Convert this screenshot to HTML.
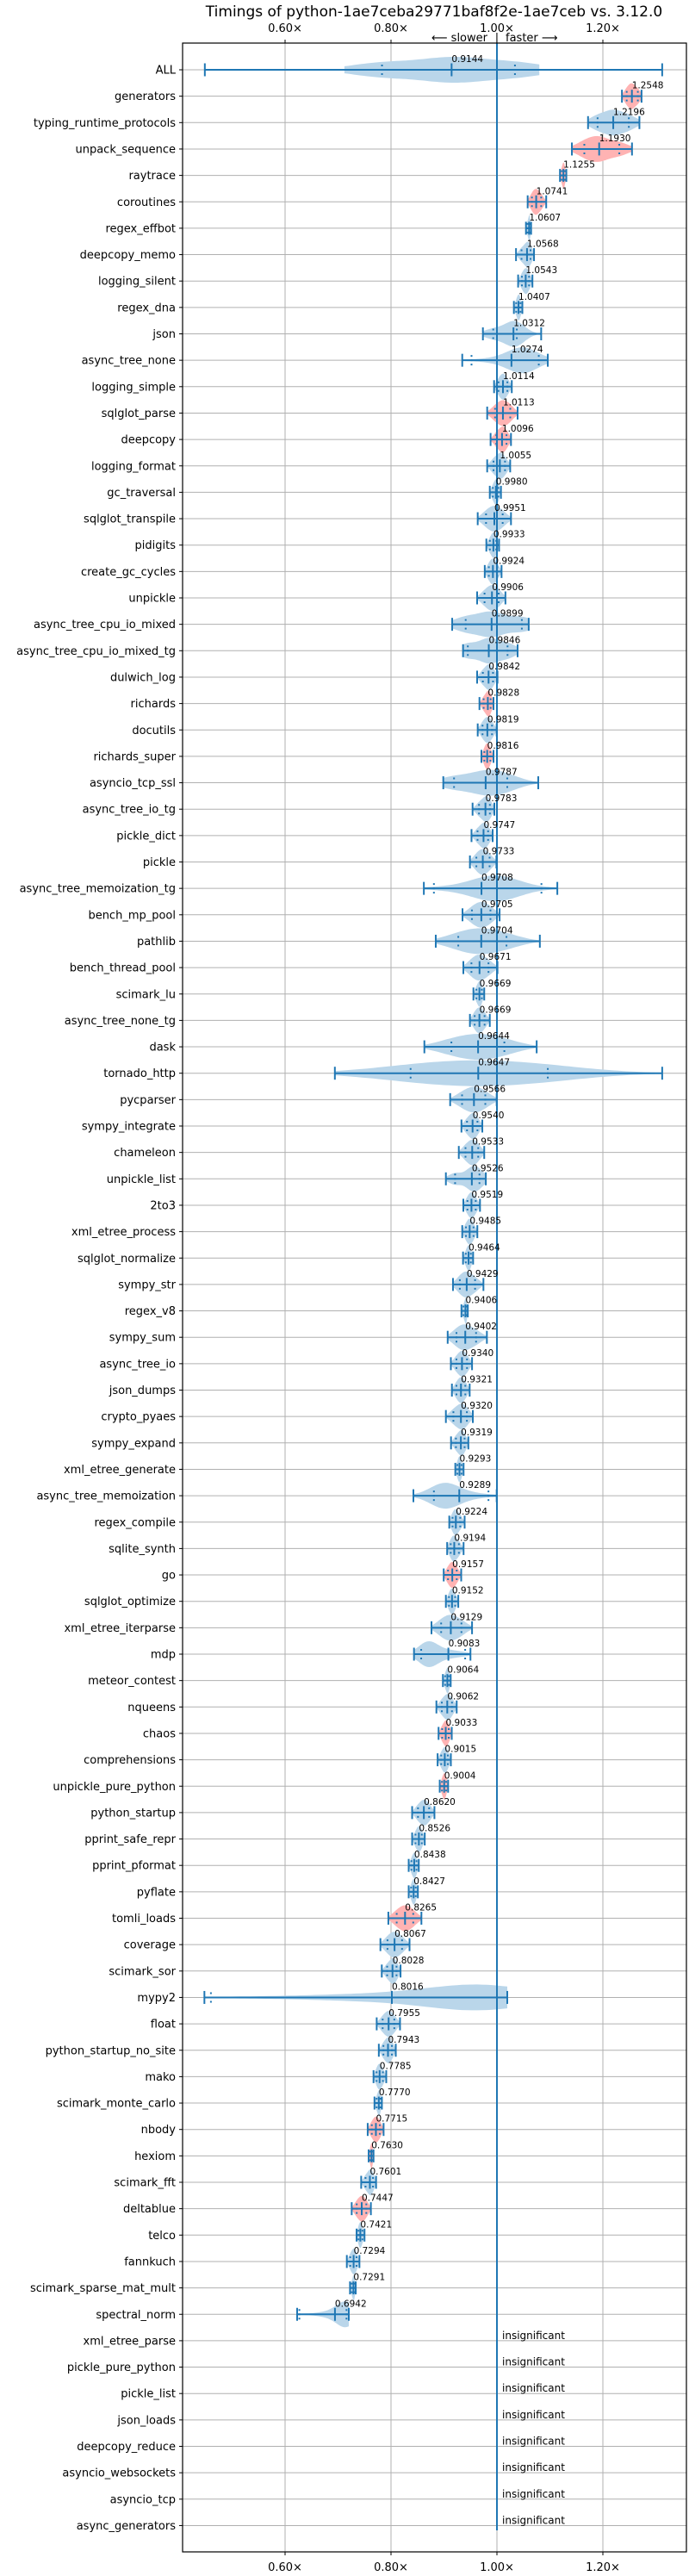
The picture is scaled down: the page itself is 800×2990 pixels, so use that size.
<!DOCTYPE html>
<html><head><meta charset="utf-8">
<style>
html,body{margin:0;padding:0;background:#fff;}
svg{display:block;font-family:"DejaVu Sans","Liberation Sans",sans-serif;}
</style></head>
<body>
<svg id="chart" width="800" height="2990" viewBox="0 0 800 2990" xmlns="http://www.w3.org/2000/svg">
<text x="504" y="19" font-size="17" text-anchor="middle" fill="#000">Timings of python-1ae7ceba29771baf8f2e-1ae7ceb vs. 3.12.0</text>
<text x="566" y="48" font-size="13" text-anchor="end" fill="#000">⟵ slower</text>
<text x="577" y="48" font-size="13" text-anchor="middle" fill="#000">|</text>
<text x="587" y="48" font-size="13" text-anchor="start" fill="#000">faster ⟶</text>
<g id="grid"></g><g id="marks"></g><g id="labels"></g>
</svg>
<script>
const benchNames = ["ALL","generators","typing_runtime_protocols","unpack_sequence","raytrace","coroutines","regex_effbot","deepcopy_memo","logging_silent","regex_dna","json","async_tree_none","logging_simple","sqlglot_parse","deepcopy","logging_format","gc_traversal","sqlglot_transpile","pidigits","create_gc_cycles","unpickle","async_tree_cpu_io_mixed","async_tree_cpu_io_mixed_tg","dulwich_log","richards","docutils","richards_super","asyncio_tcp_ssl","async_tree_io_tg","pickle_dict","pickle","async_tree_memoization_tg","bench_mp_pool","pathlib","bench_thread_pool","scimark_lu","async_tree_none_tg","dask","tornado_http","pycparser","sympy_integrate","chameleon","unpickle_list","2to3","xml_etree_process","sqlglot_normalize","sympy_str","regex_v8","sympy_sum","async_tree_io","json_dumps","crypto_pyaes","sympy_expand","xml_etree_generate","async_tree_memoization","regex_compile","sqlite_synth","go","sqlglot_optimize","xml_etree_iterparse","mdp","meteor_contest","nqueens","chaos","comprehensions","unpickle_pure_python","python_startup","pprint_safe_repr","pprint_pformat","pyflate","tomli_loads","coverage","scimark_sor","mypy2","float","python_startup_no_site","mako","scimark_monte_carlo","nbody","hexiom","scimark_fft","deltablue","telco","fannkuch","scimark_sparse_mat_mult","spectral_norm"];
const insignificantNames = ["xml_etree_parse","pickle_pure_python","pickle_list","json_loads","deepcopy_reduce","asyncio_websockets","asyncio_tcp","async_generators"];
const medians = [0.9144,1.2548,1.2196,1.1930,1.1255,1.0741,1.0607,1.0568,1.0543,1.0407,1.0312,1.0274,1.0114,1.0113,1.0096,1.0055,0.9980,0.9951,0.9933,0.9924,0.9906,0.9899,0.9846,0.9842,0.9828,0.9819,0.9816,0.9787,0.9783,0.9747,0.9733,0.9708,0.9705,0.9704,0.9671,0.9669,0.9669,0.9644,0.9647,0.9566,0.9540,0.9533,0.9526,0.9519,0.9485,0.9464,0.9429,0.9406,0.9402,0.9340,0.9321,0.9320,0.9319,0.9293,0.9289,0.9224,0.9194,0.9157,0.9152,0.9129,0.9083,0.9064,0.9062,0.9033,0.9015,0.9004,0.8620,0.8526,0.8438,0.8427,0.8265,0.8067,0.8028,0.8016,0.7955,0.7943,0.7785,0.7770,0.7715,0.7630,0.7601,0.7447,0.7421,0.7294,0.7291,0.6942];
const mins = [0.4485,1.236,1.172,1.1415,1.119,1.058,1.0548,1.036,1.040,1.032,0.9735,0.9345,0.9946,0.9816,0.988,0.9816,0.9865,0.9637,0.980,0.977,0.9626,0.9155,0.936,0.9626,0.967,0.9637,0.9707,0.8987,0.954,0.952,0.949,0.862,0.935,0.8845,0.9366,0.9556,0.949,0.863,0.694,0.9117,0.933,0.928,0.9036,0.9366,0.9345,0.936,0.917,0.933,0.907,0.913,0.915,0.9036,0.9133,0.9214,0.8423,0.910,0.906,0.8995,0.9036,0.8764,0.8434,0.898,0.8857,0.8898,0.888,0.892,0.8399,0.8399,0.8334,0.8334,0.795,0.780,0.7826,0.4477,0.773,0.777,0.767,0.7688,0.756,0.7578,0.7437,0.7258,0.735,0.7166,0.7226,0.6228];
const maxs = [1.312,1.273,1.269,1.255,1.131,1.093,1.0645,1.070,1.067,1.048,1.0835,1.096,1.028,1.039,1.0265,1.025,1.0076,1.0265,1.004,1.0087,1.016,1.060,1.039,1.001,0.9935,0.9995,0.9935,1.078,0.9951,0.9919,0.999,1.114,1.005,1.081,1.001,0.976,0.9865,1.075,1.312,0.9995,0.9724,0.976,0.979,0.968,0.963,0.955,0.9745,0.945,0.981,0.953,0.9485,0.9545,0.946,0.937,0.9995,0.939,0.937,0.9325,0.927,0.953,0.950,0.9127,0.924,0.9147,0.913,0.9078,0.882,0.8637,0.8524,0.8507,0.8574,0.835,0.818,1.0195,0.817,0.809,0.791,0.7828,0.786,0.767,0.7718,0.762,0.750,0.7404,0.7334,0.7203];
const q1s = [0.783,1.245,1.19,1.165,null,null,null,null,null,null,0.993,0.952,null,null,null,null,null,null,null,null,null,0.941,0.945,null,null,null,null,0.919,null,null,null,0.881,null,0.927,null,null,null,0.914,0.837,null,null,null,0.921,null,null,null,null,null,null,null,null,null,null,null,0.881,null,null,null,null,null,0.857,null,null,null,null,null,null,null,null,null,null,null,null,0.46,null,null,null,null,null,null,null,null,null,null,null,0.627];
const q3s = [1.034,1.266,1.249,1.231,null,null,null,null,null,null,1.0375,1.079,null,null,null,null,null,null,null,null,null,1.047,1.02,null,null,null,null,1.0195,null,null,null,1.084,null,1.018,null,null,null,1.014,1.096,null,null,null,0.967,null,null,null,null,null,null,null,null,null,null,null,0.984,null,null,null,null,null,0.94,null,null,null,null,null,null,null,null,null,null,null,null,1.0,null,null,null,null,null,null,null,null,null,null,null,0.716];
// violin shape overrides (null = default)
const violinLo = [0.712];
const violinHi = [1.08];
const peaks = {11:1.05, 31:1.0, 54:0.90, 60:0.87, 73:0.97, 85:0.715};
const slowerSignif = [1,3,4,5,13,14,24,26,57,63,65,70,78,79,81];
const xTicks = [0.6,0.8,1.0,1.2];
const xTickLabels = ["0.60×","0.80×","1.00×","1.20×"];

const NS="http://www.w3.org/2000/svg";
const AX_L=212, AX_R=797, AX_T=50, AX_B=2962;
function xs(v){return 577+(v-1)*615;}
function ys(i){return 81+i*30.65;}
function mk(tag,attrs,parent){const e=document.createElementNS(NS,tag);for(const k in attrs)e.setAttribute(k,attrs[k]);parent.appendChild(e);return e;}
const grid=document.getElementById('grid'), marks=document.getElementById('marks'), labels=document.getElementById('labels');
const allNames = benchNames.concat(insignificantNames);

xTicks.forEach((t,k)=>{
  const x=xs(t);
  const g=mk('line',{x1:x,x2:x,y1:AX_T,y2:AX_B,stroke:'#b0b0b0','stroke-width':1},grid);
  
  
  mk('line',{x1:x,x2:x,y1:AX_T-4,y2:AX_T,stroke:'#000','stroke-width':1},grid);
  mk('line',{x1:x,x2:x,y1:AX_B,y2:AX_B+4,stroke:'#000','stroke-width':1},grid);
  const tt=mk('text',{x:x,y:37,'font-size':13,'text-anchor':'middle'},labels);
  tt.textContent=xTickLabels[k];
  
  
  const tb=mk('text',{x:x,y:2984,'font-size':13,'text-anchor':'middle'},labels);
  tb.textContent=xTickLabels[k];
  
  
});
allNames.forEach((n,i)=>{
  const y=ys(i);
  const g=mk('line',{x1:AX_L,x2:AX_R,y1:y,y2:y,stroke:'#b0b0b0','stroke-width':1},grid);
  
  
  mk('line',{x1:AX_L-4,x2:AX_L,y1:y,y2:y,stroke:'#000','stroke-width':1},grid);
  const t=mk('text',{x:AX_L-8,y:y+4.5,'font-size':13,'text-anchor':'end'},labels);
  t.textContent=n;
  
  
});
const fr=mk('rect',{x:AX_L,y:AX_T,width:AX_R-AX_L,height:AX_B-AX_T,fill:'none',stroke:'#000','stroke-width':1.2},labels);



const BLUE='#1f77b4';
function g(x,m,s){return Math.exp(-0.5*((x-m)/s)*((x-m)/s));}
benchNames.forEach((n,i)=>{
  const y=ys(i), med=medians[i], lo=mins[i], hi=maxs[i];
  const q1 = q1s[i]!=null ? q1s[i] : med-(med-lo)*0.5;
  const q3 = q3s[i]!=null ? q3s[i] : med+(hi-med)*0.5;
  const red = slowerSignif.indexOf(i)>=0;
  const vlo = violinLo[i]!=null ? violinLo[i] : lo;
  const vhi = violinHi[i]!=null ? violinHi[i] : hi;
  const sg = Math.max((vhi-vlo)/6,1e-4);
  const N=60, dens=[];
  for(let k=0;k<=N;k++){
    const v=vlo+(vhi-vlo)*k/N;
    let d;
    if(peaks[i]!=null){d=g(v,peaks[i],sg)+0.3*g(v,med,sg*1.5)+0.05;}
    else{d=g(v,med,sg)+0.6*g(v,q1,sg)+0.6*g(v,q3,sg);}
    dens.push(d);
  }
  const mx=Math.max(...dens);
  let top='',bot='';
  for(let k=0;k<=N;k++){const v=vlo+(vhi-vlo)*k/N;const h=15*dens[k]/mx;top+=(k?'L':'M')+xs(v).toFixed(1)+','+(y-h).toFixed(1);}
  for(let k=N;k>=0;k--){const v=vlo+(vhi-vlo)*k/N;const h=15*dens[k]/mx;bot+='L'+xs(v).toFixed(1)+','+(y+h).toFixed(1);}
  const vp=mk('path',{d:top+bot+'Z',fill:red?'#ffb3b3':'#bad6ea'},marks);
  
  
  const wl=mk('line',{x1:xs(lo),x2:xs(hi),y1:y,y2:y,stroke:BLUE,'stroke-width':2},marks);
  
  
  [lo,hi,med].forEach(v=>{
    const c=mk('line',{x1:xs(v),x2:xs(v),y1:y-7.5,y2:y+7.5,stroke:BLUE,'stroke-width':2},marks);
    
    
  });
  [q1,q3].forEach(v=>{
    const c=mk('line',{x1:xs(v),x2:xs(v),y1:y-6,y2:y+6,stroke:BLUE,'stroke-width':2,'stroke-dasharray':'2,3'},marks);
    
    
  });
  const t=mk('text',{x:xs(med),y:y-9,'font-size':10.5,fill:'#000'},labels);
  t.textContent=med.toFixed(4);
  
  
});
insignificantNames.forEach((n,j)=>{
  const i=benchNames.length+j;
  const t=mk('text',{x:xs(1.0)+6,y:ys(i)-2,'font-size':12,fill:'#000'},labels);
  t.textContent='insignificant';
  
  
});
const base=mk('line',{x1:xs(1.0),x2:xs(1.0),y1:AX_T,y2:2937,stroke:BLUE,'stroke-width':2},marks);


</script>
</body></html>
